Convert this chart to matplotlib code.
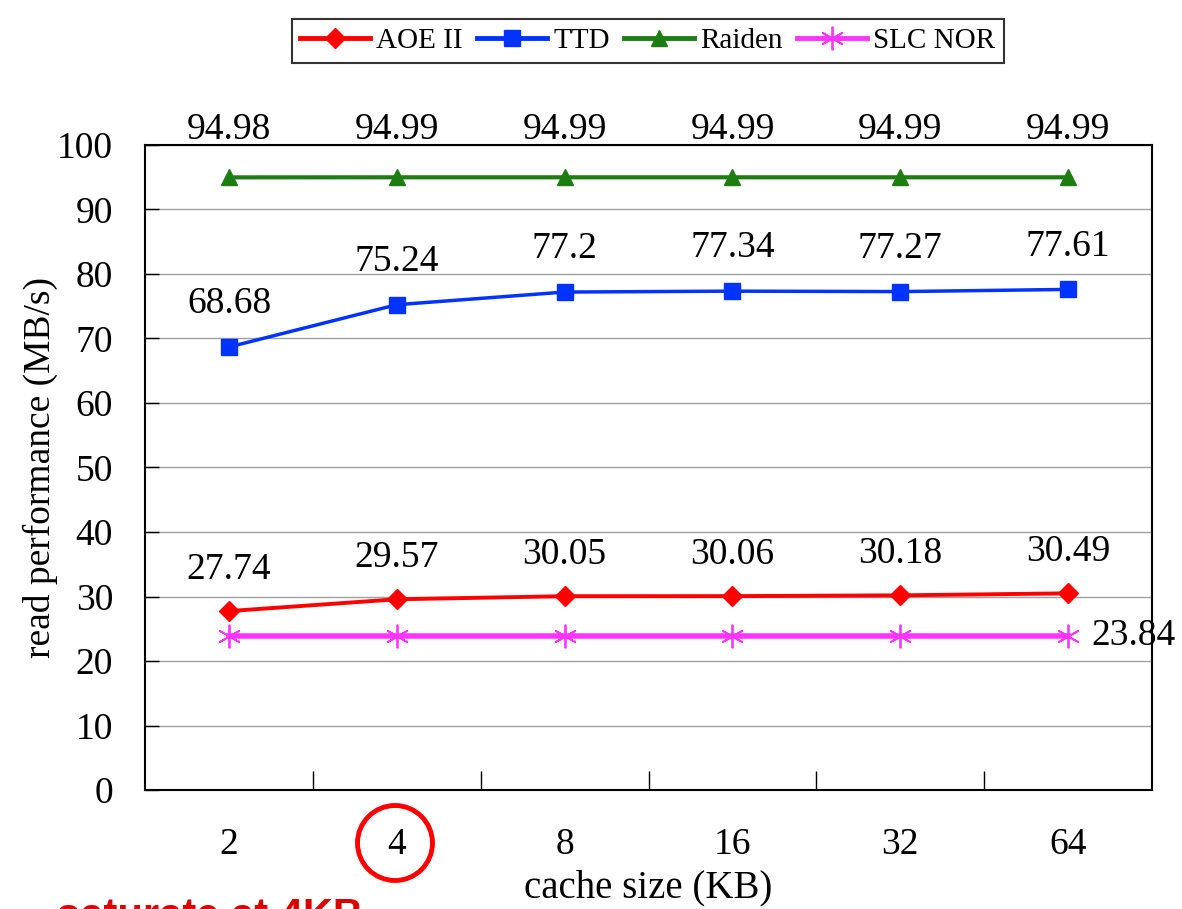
import matplotlib
matplotlib.use('Agg')
import matplotlib.pyplot as plt
from matplotlib.patches import Ellipse

plt.rcParams['font.family'] = ['Liberation Serif', 'DejaVu Serif']

cache_sizes = ['2', '4', '8', '16', '32', '64']
aoe = [27.74, 29.57, 30.05, 30.06, 30.18, 30.49]
ttd = [68.68, 75.24, 77.2, 77.34, 77.27, 77.61]
raiden = [94.98, 94.99, 94.99, 94.99, 94.99, 94.99]
slc_nor = [23.84, 23.84, 23.84, 23.84, 23.84, 23.84]

fig = plt.figure(figsize=(11.82, 9.09), dpi=100)
ax = fig.add_axes([0.1227, 0.1309, 0.852, 0.7096])

x = list(range(len(cache_sizes)))

ax.plot(x, aoe, color='#ff0000', lw=2.8, marker='D', ms=10, label='AOE II', zorder=3)
ax.plot(x, ttd, color='#0033ff', lw=2.5, marker='s', ms=11, label='TTD', zorder=3)
ax.plot(x, raiden, color='#1e7d12', lw=3, marker='^', ms=12, label='Raiden', zorder=3)
ax.plot(x, slc_nor, color='#ff33ff', lw=4, marker=(6, 2, 0), ms=17, mew=1.3, label='SLC NOR', zorder=3)

# value labels
fs = 27
for i in x:
    ax.annotate('{:g}'.format(raiden[i]), (i, raiden[i]), xytext=(0, 34), textcoords='offset points',
                ha='center', va='center', fontsize=fs, annotation_clip=False)
    ax.annotate('{:g}'.format(ttd[i]), (i, ttd[i]), xytext=(0, 31), textcoords='offset points',
                ha='center', va='center', fontsize=fs)
    ax.annotate('{:g}'.format(aoe[i]), (i, aoe[i]), xytext=(0, 30), textcoords='offset points',
                ha='center', va='center', fontsize=fs)
ax.annotate('{:g}'.format(slc_nor[-1]), (x[-1], slc_nor[-1]), xytext=(47, 0), textcoords='offset points',
            ha='center', va='center', fontsize=fs, annotation_clip=False)

ax.set_xlim(-0.5, 5.5)
ax.set_ylim(0, 100)
ax.set_yticks(range(0, 101, 10))
ax.set_xticks(x)
ax.set_xticklabels(cache_sizes)
ax.set_xticks([i + 0.5 for i in x[:-1]], minor=True)
ax.tick_params(axis='x', which='major', length=0, labelsize=fs, pad=27)
ax.tick_params(axis='x', which='minor', direction='in', length=14, width=1)
ax.tick_params(axis='y', direction='in', length=10, width=1, labelsize=fs, pad=23)
ax.grid(axis='y', color='#a0a0a0', lw=1)
ax.set_axisbelow(True)
for s in ax.spines.values():
    s.set_linewidth(1.5)

ax.set_ylabel('read performance (MB/s)', fontsize=27)
ax.set_xlabel('cache size (KB)', fontsize=28)
ax.yaxis.set_label_coords((40 - 145) / 1007, 0.5)
ax.xaxis.set_label_coords(0.5, (790 - 888) / 645)
ax.xaxis.label.set_va('center')
ax.yaxis.label.set_va('center')

leg = fig.legend(loc='center', bbox_to_anchor=(0.548, 0.955), ncol=4, fontsize=21,
                 frameon=True, fancybox=False, edgecolor='black', handlelength=2.4,
                 handletextpad=0.2, columnspacing=0.5, borderpad=0.3)
leg.get_frame().set_linewidth(1.5)
for h in leg.legend_handles:
    h.set_linewidth(3.5)

# highlight of the 4KB tick
fig.patches.append(Ellipse((395 / 1182, 1 - 843 / 909), 75 / 1182, 75 / 909,
                           transform=fig.transFigure, fill=False, edgecolor='#ff0000', lw=3.5))
fig.text(57 / 1182, 1 - 897 / 909, 'saturate at 4KB', color='#dd0000', fontsize=30,
         fontweight='bold', family=['Liberation Sans', 'DejaVu Sans'], va='top', ha='left')

fig.savefig('out.png', dpi=100)
